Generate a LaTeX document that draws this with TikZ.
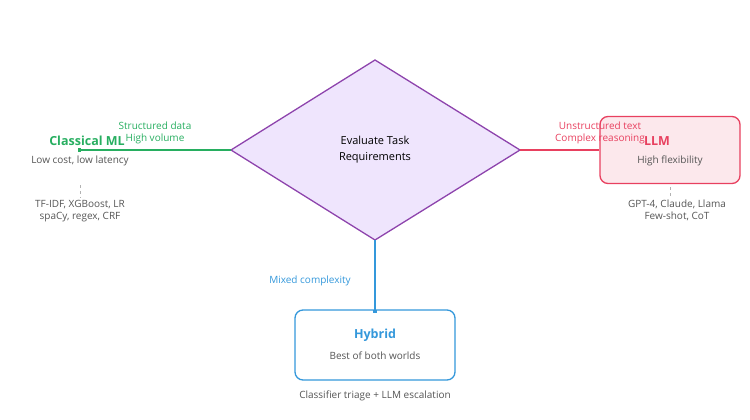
\documentclass[tikz,border=0pt]{standalone}
\usepackage{fontspec}
\setmainfont{Open Sans}
\usetikzlibrary{arrows.meta}
\definecolor{grn}{HTML}{27AE60}
\definecolor{red}{HTML}{E8405F}
\definecolor{blu}{HTML}{3498DB}
\definecolor{pur}{HTML}{8E44AD}
\definecolor{dfill}{HTML}{EFE5FD}
\definecolor{gry}{HTML}{555555}
\begin{document}
\begin{tikzpicture}[x=1pt,y=-1pt,
  small/.style={font=\fontsize{10}{12}\selectfont,text=gry,align=center,inner sep=0},
  lbl/.style={font=\fontsize{10}{12.5}\selectfont,align=center,inner sep=0},
  ttl/.style={font=\fontsize{12.5}{14}\selectfont\bfseries,inner sep=0},
  dsh/.style={draw=gray!60,dashed,line width=0.8pt}]
\useasboundingbox (0,0) rectangle (750,420);
\draw[pur,fill=dfill,line width=1.3pt] (231,150) coordinate (dl) -- (375,60) -- (520,150) coordinate (dr) -- (375,240) coordinate (db) -- cycle;
\node[font=\fontsize{11}{16}\selectfont,align=center] (dec) at (375,150) {Evaluate Task\\Requirements};
% classical
\node[ttl,text=grn] (cml) at (87,141) {Classical ML};
\node[small] (cmls) at (80,161) {Low cost, low latency};
\coordinate (cmlin) at (78,150);
\draw[grn,line width=1.3pt,-{Square[length=3pt,width=4pt]}] (dl) -- (cmlin);
\node[lbl,text=grn] (gl) at (155,133) {Structured data\\High volume};
\coordinate (c1) at (80,185); \coordinate (c2) at (80,198);
\draw[dsh] (c1) -- (c2);
\node[small,anchor=north] (cmlt) at (80,200) {TF-IDF, XGBoost, LR\\spaCy, regex, CRF};
% llm
\node[draw=red,fill=red!12,line width=1.3pt,rounded corners=8pt,minimum width=140pt,minimum height=67pt] (llm) at (670,150) {};
\draw[red,line width=1.3pt] (dr) -- (llm.west);
\node[ttl,text=red] (llmt) at (657,141) {LLM};
\node[small] (llms) at (670,161) {High flexibility};
\node[lbl,text=red] (rl) at (600,133) {Unstructured text\\Complex reasoning};
\coordinate (l1) at (670,187); \coordinate (l2) at (670,198);
\draw[dsh] (l1) -- (l2);
\node[small,anchor=north] (llmx) at (677,200) {GPT-4, Claude, Llama\\Few-shot, CoT};
% hybrid
\node[draw=blu,fill=white,line width=1.3pt,rounded corners=8pt,minimum width=160pt,minimum height=70pt] (hy) at (375,345) {};
\draw[blu,line width=1.3pt,-{Square[length=3pt,width=4pt]}] (db) -- (375,313);
\node[ttl,text=blu] (hyt) at (375,335) {Hybrid};
\node[small] (hys) at (375,356) {Best of both worlds};
\node[lbl,text=blu] (bl) at (310,281) {Mixed complexity};
\node[small] (hyx) at (375,396) {Classifier triage + LLM escalation};
\end{tikzpicture}
\end{document}
